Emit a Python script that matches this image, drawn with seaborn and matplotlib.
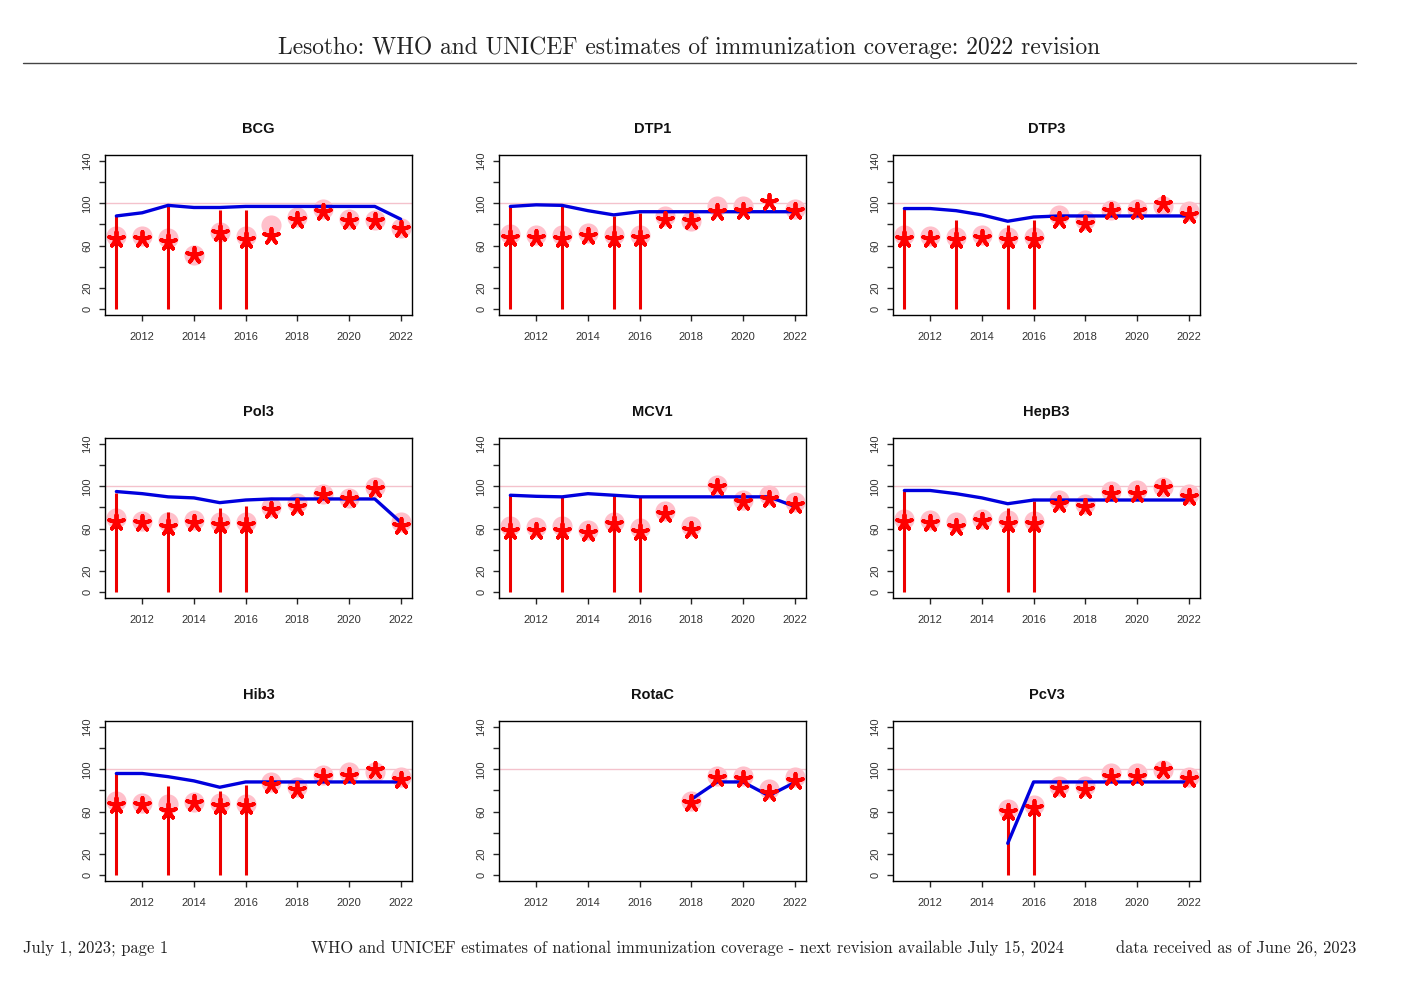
import numpy as np
import pandas as pd
import matplotlib
matplotlib.use("Agg")
import matplotlib.pyplot as plt
from matplotlib.lines import Line2D
import seaborn as sns

# ====== DATA ======
years = list(range(2011, 2023))
vaccines = ["BCG", "DTP1", "DTP3", "Pol3", "MCV1", "HepB3", "Hib3", "RotaC", "PcV3"]
x_ticks = [2012, 2014, 2016, 2018, 2020, 2022]
y_ticks = [0, 20, 40, 60, 80, 100, 120, 140]
y_tick_labels = ["0", "20", "", "60", "", "100", "", "140"]

N = None
# blue line = WUENIC estimate, stars = official, circles = administrative, red bars = surveys
bcg_est = [88, 91, 98, 96, 96, 97, 97, 97, 97, 97, 97, 85]
bcg_off = [66, 66, 63, 51, 72, 65, 69, 84, 92, 83, 83, 76]
bcg_adm = [69, 69, 67, 51, 73, 69, 79, 87, 95, 85, 84, 77]
bcg_svy = [88, N, 98, N, 94, 94, N, N, N, N, N, N]

dtp1_est = [97, 98.5, 98, 93, 89, 92, 92, 92, 92, 92, 92, 92]
dtp1_off = [67, 67, 66, 69, 66, 67.5, 84, 83, 92, 93, 101, 93]
dtp1_adm = [71, 70, 70, 72, 70, 70, 88, 83, 97, 97.5, N, 95]
dtp1_svy = [97, N, 97, N, 88, 91, N, N, N, N, N, N]

dtp3_est = [95, 95, 93, 89, 83, 87, 88, 88, 88, 88, 88, 88]
dtp3_off = [66, 66, 65, 67, 65, 65, 84, 80, 93, 93, 99, 89]
dtp3_adm = [70, 69, 68, 70, 68, 68, 89, 84, 94, 95, 97.5, 93]
dtp3_svy = [95, N, 84, N, 79, 84, N, N, N, N, N, N]

pol3_est = [95, 93, 90, 89, 84.5, 87, 88, 88, 88, 88, 88, 66]
pol3_off = [66, 65, 61.5, 65, 63, 63, 78, 80.5, 91.5, 88, 97, 62.5]
pol3_adm = [70, 67, 66, 68, 66, 66, 80, 84, 93, 89, 99, 66]
pol3_svy = [94, N, 76, N, 79.5, 81, N, N, N, N, N, N]

mcv1_est = [91.5, 90.5, 90, 93, 91.5, 90, 90, 90, 90, 90, 90, 81]
mcv1_off = [58, 57.5, 58, 56, 64, 57, 74, 59, 99.5, 85, 88, 82]
mcv1_adm = [62.5, 61.5, 62.5, 59, 66, 61, 77, 62.5, 101, 87, 91.5, 85]
mcv1_svy = [91.5, N, 90, N, 91.5, 90, N, N, N, N, N, N]

hepb3_est = [96, 96, 93, 89, 83.5, 87, 87, 87, 87, 87, 87, 87]
hepb3_off = [66, 65, 61.5, 67, 64, 64, 83.5, 80, 93, 93, 98.5, 90]
hepb3_adm = [69.5, 68, 66, 69.5, 68, 67, 87, 83.5, 95.5, 96, 99.5, 93]
hepb3_svy = [95.5, N, N, N, 79, 86, N, N, N, N, N, N]

hib3_est = [96, 96, 93, 89, 83, 88, 88, 88, 88, 88, 88, 88]
hib3_off = [66, 66, 61, 68, 65, 65, 85, 80.5, 93, 93.5, 99.5, 90]
hib3_adm = [70, 68, 67, 69.5, 68, 67, 88, 83.5, 95, 97, 97.5, 93]
hib3_svy = [96, N, 84, N, 79.5, 85, N, N, N, N, N, N]

rotac_est = [N, N, N, N, N, N, N, 71.5, 88, 88, 75, 87.5]
rotac_off = [N, N, N, N, N, N, N, 68.5, 92, 90.5, 78, 89]
rotac_adm = [N, N, N, N, N, N, N, 70, 94, 94, 81, 93]
rotac_svy = [N] * 12

pcv3_est = [N, N, N, N, 30, 88, 88, 88, 88, 88, 88, 88]
pcv3_off = [N, N, N, N, 59.5, 63, 81, 80.5, 93, 93, 99.5, 90.5]
pcv3_adm = [N, N, N, N, 62.5, 66, 84.5, 84.5, 96, 96, 99.5, 93]
pcv3_svy = [N, N, N, N, 61, 67, N, N, N, N, N, N]

series = {
    "BCG": (bcg_est, bcg_off, bcg_adm, bcg_svy),
    "DTP1": (dtp1_est, dtp1_off, dtp1_adm, dtp1_svy),
    "DTP3": (dtp3_est, dtp3_off, dtp3_adm, dtp3_svy),
    "Pol3": (pol3_est, pol3_off, pol3_adm, pol3_svy),
    "MCV1": (mcv1_est, mcv1_off, mcv1_adm, mcv1_svy),
    "HepB3": (hepb3_est, hepb3_off, hepb3_adm, hepb3_svy),
    "Hib3": (hib3_est, hib3_off, hib3_adm, hib3_svy),
    "RotaC": (rotac_est, rotac_off, rotac_adm, rotac_svy),
    "PcV3": (pcv3_est, pcv3_off, pcv3_adm, pcv3_svy),
}

# ====== STYLE ======
sns.set_theme(style="ticks")
plt.rcParams["font.family"] = ["Liberation Sans", "DejaVu Sans"]
plt.rcParams["axes.linewidth"] = 1.0
plt.rcParams["xtick.major.size"] = 4
plt.rcParams["ytick.major.size"] = 4
plt.rcParams["xtick.major.width"] = 1.0
plt.rcParams["ytick.major.width"] = 1.0

W, H = 1403, 992
fig = plt.figure(figsize=(W / 100, H / 100), dpi=100)

serif = ["cmr10", "DejaVu Serif"]
fig.text(689 / W, 1 - 47.5 / H, "Lesotho: WHO and UNICEF estimates of immunization coverage: 2022 revision",
         ha="center", va="center", fontsize=16.9, family=serif, color="#222222")
fig.add_artist(Line2D([23 / W, 1356 / W], [1 - 63 / H, 1 - 63 / H], color="#444444", lw=1.0))

fig.text(23 / W, 1 - 948.5 / H, "July 1, 2023; page 1", ha="left", va="center",
         fontsize=11.9, family=serif, color="#222222")
fig.text(687 / W, 1 - 948.5 / H,
         "WHO and UNICEF estimates of national immunization coverage - next revision available July 15, 2024",
         ha="center", va="center", fontsize=11.9, family=serif, color="#222222")
fig.text(1356 / W, 1 - 948.5 / H, "data received as of June 26, 2023", ha="right", va="center",
         fontsize=11.9, family=serif, color="#222222")

col_left = [105, 499, 893]
row_top = [155, 438, 721]
pw, ph = 307, 160

star = (5, 2, 0)

for i, vac in enumerate(vaccines):
    est, off, adm, svy = series[vac]
    df = pd.DataFrame({"year": years, "est": est, "off": off, "adm": adm, "svy": svy}).astype(float)

    r, c = divmod(i, 3)
    ax = fig.add_axes([col_left[c] / W, 1 - (row_top[r] + ph) / H, pw / W, ph / H])

    ax.axhline(100, color="#F4C2CC", lw=1.0, zorder=1)

    d = df.dropna(subset=["adm"])
    sns.scatterplot(data=d, x="year", y="adm", ax=ax, color="#FFC0CB", s=210,
                    linewidth=0, zorder=2, legend=False)

    d = df.dropna(subset=["svy"])
    ax.vlines(d["year"], 0, d["svy"], color="#EE0000", lw=2.2, zorder=3)

    d = df.dropna(subset=["est"])
    sns.lineplot(data=d, x="year", y="est", ax=ax, color="#0000DD", lw=2.4,
                 zorder=4, legend=False)

    d = df.dropna(subset=["off"])
    sns.scatterplot(data=d, x="year", y="off", ax=ax, marker=star, color="red", s=120,
                    linewidth=2.8, zorder=5, legend=False)

    ax.set_xlim(2010.56, 2022.44)
    ax.set_ylim(-5.6, 145.6)
    ax.set_xticks(x_ticks)
    ax.set_xticklabels([str(t) for t in x_ticks], fontsize=8, color="#333333")
    ax.set_yticks(y_ticks)
    ax.set_yticklabels(y_tick_labels, fontsize=8, rotation=90, va="center", color="#333333")
    ax.tick_params(axis="x", pad=8.5)
    ax.tick_params(axis="y", pad=5)
    ax.set_xlabel("")
    ax.set_ylabel("")
    for sp in ax.spines.values():
        sp.set_visible(True)
        sp.set_color("black")
    ax.set_title(vac, fontsize=10.5, fontweight="bold", pad=15.5, color="#111111")

fig.savefig("out.png", dpi=100)
